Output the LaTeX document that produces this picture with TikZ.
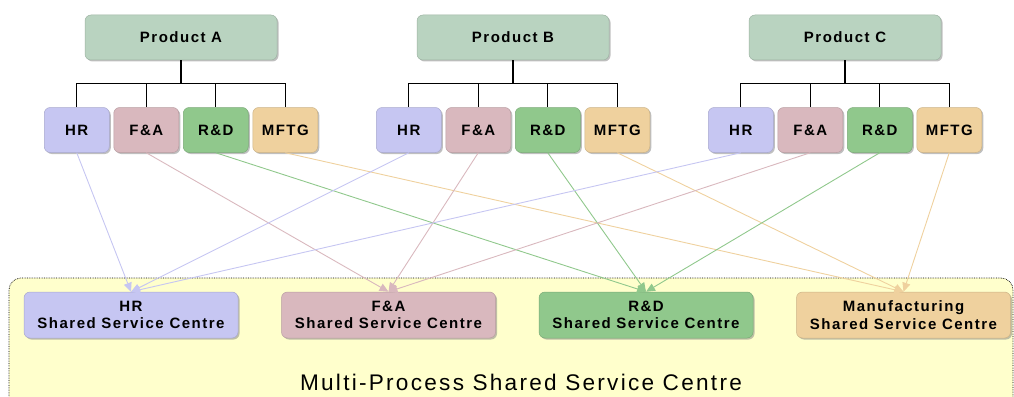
\documentclass[tikz,border=0pt]{standalone}
\usepackage{fontspec}
\setmainfont{Liberation Sans}
\newfontfamily\boxfont[LetterSpace=10]{Liberation Sans}
\usepackage{tikz}
\usetikzlibrary{arrows.meta, positioning, shadows}
\definecolor{myprod}{RGB}{185, 211, 192}
\definecolor{myhr}{RGB}{198, 198, 242}
\definecolor{myfa}{RGB}{217, 184, 190}
\definecolor{myrd}{RGB}{144, 200, 140}
\definecolor{mymf}{RGB}{239, 209, 158}
\definecolor{mybg}{RGB}{255, 255, 204}

\tikzset{
    tile/.style={draw=#1!85!black, line width=0.5pt, fill=#1, rounded corners=6pt,
        drop shadow={shadow xshift=1.5pt, shadow yshift=-1.5pt, fill=black!50},
        font=\boxfont\bfseries\fontsize{15}{17.5}\selectfont, align=center, inner sep=0pt},
    prodbox/.style={tile=myprod, minimum width=192pt, minimum height=45pt},
    unitbox/.style={tile=#1, minimum width=65pt, minimum height=45pt},
    sscbox/.style={tile=#1, minimum width=214pt, minimum height=46pt},
    tree/.style={line width=1.2pt, black},
    flow/.style={line width=0.9pt, -{Triangle[length=9pt, width=8pt]}},
}

\begin{document}
\begin{tikzpicture}[x=1pt, y=-1pt]
    \useasboundingbox (0,0) rectangle (1014,396);

    % --- Shared service area ---
    \draw[densely dotted, line width=0.7pt, fill=mybg, rounded corners=12pt] (9,278) rectangle (1013,410);
    \node[anchor=base, font=\boxfont\fontsize{22.6}{26}\selectfont] (msc) at (521,390) {Multi-Process Shared Service Centre};

    % --- Products ---
    \node[prodbox] (pA) at (181,37.5) {Product A};
    \node[prodbox] (pB) at (513,37.5) {Product B};
    \node[prodbox] (pC) at (845,37.5) {Product C};

    % --- Functions under each product ---
    \foreach \g in {A,B,C} {
        \node[unitbox=myfa, below left=47pt and 2pt of p\g.south] (fa\g) {F\&A};
        \node[unitbox=myrd, below right=47pt and 2pt of p\g.south] (rd\g) {R\&D};
        \node[unitbox=myhr, left=4pt of fa\g] (hr\g) {HR};
        \node[unitbox=mymf, right=4pt of rd\g] (mf\g) {MFTG};
        \foreach \t in {hr,fa,rd,mf}
            \draw[tree] (p\g.south) -- ++(0,23) -| (\t\g.north);
    }

    % --- Shared service centres ---
    \node[sscbox=myhr] (sschr) at (131,315) {HR\\Shared Service Centre};
    \node[sscbox=myfa, right=43pt of sschr] (sscfa) {F\&A\\Shared Service Centre};
    \node[sscbox=myrd, right=43pt of sscfa] (sscrd) {R\&D\\Shared Service Centre};
    \node[sscbox=mymf, right=43pt of sscrd] (sscmf) {Manufacturing\\Shared Service Centre};

    % --- Flows into the centres ---
    \foreach \g in {A,B,C}
        \foreach \t in {hr,fa,rd,mf}
            \draw[flow, my\t] (\t\g.south) -- (ssc\t.north);
\end{tikzpicture}
\end{document}
